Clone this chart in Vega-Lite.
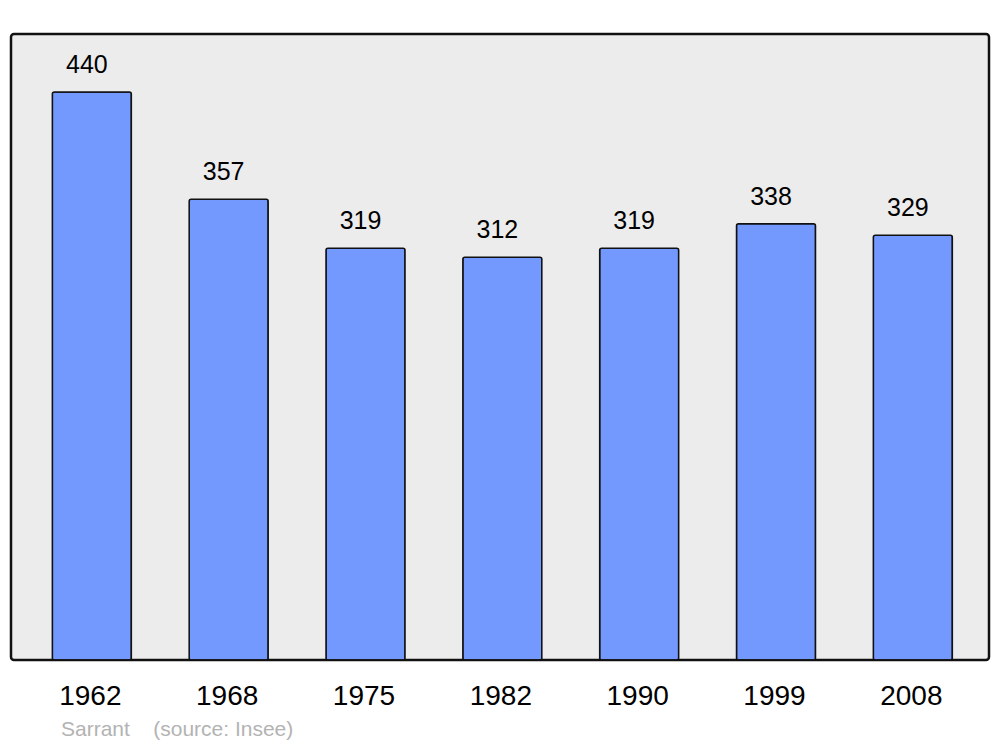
{
  "$schema": "https://vega.github.io/schema/vega-lite/v6.json",
  "autosize": {"type": "none"},
  "width": 978,
  "height": 626,
  "padding": {"left": 11, "top": 34, "right": 11, "bottom": 87},
  "background": "white",
  "config": {
    "font": "Liberation Sans",
    "view": {"fill": "#ececec", "stroke": "#111111", "strokeWidth": 2.5, "cornerRadius": 3}
  },
  "title": {
    "text": "Sarrant\u00a0\u00a0\u00a0\u00a0(source: Insee)",
    "orient": "bottom",
    "anchor": "start",
    "frame": "group",
    "dx": 50,
    "offset": 26,
    "baseline": "alphabetic",
    "fontSize": 21,
    "fontWeight": "normal",
    "font": "Liberation Sans",
    "color": "#b3b3b3"
  },
  "data": {
    "values": [
      {"year": "1962", "population": 440},
      {"year": "1968", "population": 357},
      {"year": "1975", "population": 319},
      {"year": "1982", "population": 312},
      {"year": "1990", "population": 319},
      {"year": "1999", "population": 338},
      {"year": "2008", "population": 329}
    ]
  },
  "encoding": {
    "x": {
      "field": "year",
      "type": "ordinal",
      "sort": null,
      "scale": {"paddingInner": 0.4226, "paddingOuter": 0.285, "align": 0.53},
      "axis": {
        "title": null,
        "domain": false,
        "ticks": false,
        "tickSize": 0,
        "labelAngle": 0,
        "labelFontSize": 28,
        "labelColor": "black",
        "labelFont": "Liberation Sans",
        "labelBaseline": "alphabetic",
        "labelPadding": 44,
        "labelOffset": -1.5
      }
    },
    "y": {
      "field": "population",
      "type": "quantitative",
      "scale": {"domain": [0, 485], "nice": false},
      "axis": null
    }
  },
  "layer": [
    {
      "mark": {"type": "bar", "fill": "#7399ff", "stroke": "#111111", "strokeWidth": 1.5, "cornerRadius": 2}
    },
    {
      "mark": {"type": "text", "baseline": "alphabetic", "dy": -19, "dx": -5, "fontSize": 25, "color": "black", "font": "Liberation Sans"},
      "encoding": {"text": {"field": "population", "type": "quantitative"}}
    }
  ]
}
